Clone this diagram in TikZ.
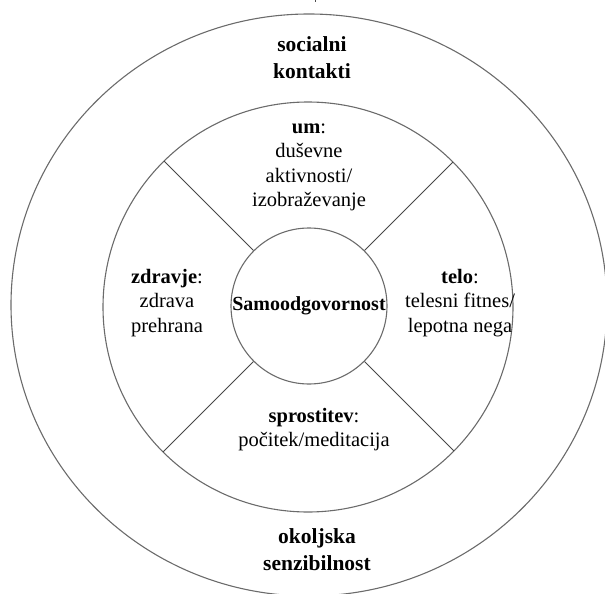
\documentclass[tikz,border=0pt]{standalone}
\usepackage{fontspec}
\setmainfont{Liberation Serif}
\begin{document}
\begin{tikzpicture}[x=1pt,y=-1pt,
  ring/.style={draw=black!58,line width=1.1pt},
  divider/.style={draw=black!72,line width=1pt},
  lbl/.style={align=center,inner sep=0pt,font=\fontsize{20.5}{24.5}\selectfont},
  outerlbl/.style={align=center,inner sep=0pt,font=\fontsize{21.5}{27}\selectfont\bfseries}]
\useasboundingbox (0,0) rectangle (605,594);
% tiny mark at the top edge
\coordinate (tk1) at (315,0);
\coordinate (tk2) at (315,2.5);
\draw[black!70,line width=1pt] (tk1) -- (tk2);
% circles
\coordinate (oc) at (309,305);
\coordinate (mc) at (308,307);
\coordinate (ic) at (309,306);
\draw[ring] (oc) ellipse [x radius=298, y radius=291];
\draw[ring] (mc) circle [radius=205];
\node[ring,circle,minimum size=156pt,inner sep=0pt] (inner) at (ic) {};
% dividers (ending on the middle circle)
\coordinate (mtl) at (164,161);
\coordinate (mtr) at (453,162);
\coordinate (mbl) at (163,452);
\coordinate (mbr) at (454,451);
\draw[divider] (inner.135) -- (mtl);
\draw[divider] (inner.45) -- (mtr);
\draw[divider] (inner.225) -- (mbl);
\draw[divider] (inner.315) -- (mbr);
% texts
\node[lbl,font=\fontsize{20}{24.5}\selectfont\bfseries] (core) at (ic) {Samoodgovornost};
\node[outerlbl] (soc) at (312,57.5) {socialni\\kontakti};
\node[outerlbl] (oko) at (317,549.5) {okoljska\\senzibilnost};
\node[lbl] (um) at (309,167.5) {\textbf{um}:\\duševne\\aktivnosti/\\izobraževanje};
\node[lbl] (zd) at (167,303) {\textbf{zdravje}:\\zdrava\\prehrana};
\node[lbl] (te) at (460,303) {\textbf{telo}:\\telesni fitnes/\\lepotna nega};
\node[lbl] (sp) at (314,429.5) {\textbf{sprostitev}:\\počitek/meditacija};
\end{tikzpicture}
\end{document}
